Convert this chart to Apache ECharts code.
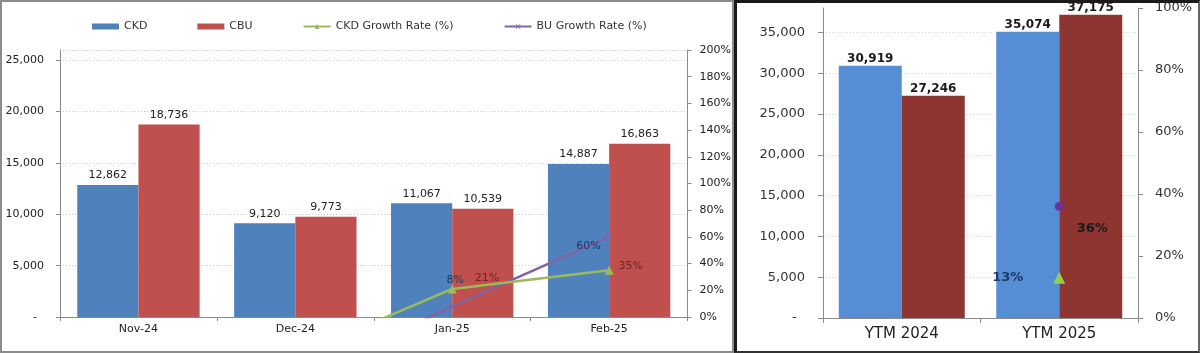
<!DOCTYPE html>
<html>
<head>
<meta charset="utf-8">
<title>CKD / CBU</title>
<script src="https://cdn.jsdelivr.net/npm/echarts@6/dist/echarts.min.js"></script>
<style>
    body { margin: 0; background: #fff; }
    .chart { position: absolute; top: 0; height: 353px; }
    .frame { position: absolute; top: 0; height: 353px; box-sizing: border-box; pointer-events: none; }
</style>
</head>
<body>
<div id="monthly" class="chart" style="left:0;width:734px"></div>
<div id="ytm" class="chart" style="left:734px;width:466px"></div>
<div class="frame" style="left:0;width:734px;border:2px solid #8c8c8c"></div>
<div class="frame" style="left:734px;width:466px;border:3px solid #1a1a1a;border-right:2px solid #666;border-bottom:2px solid #333"></div>

<script>
    // data
    var months = ['Nov-24', 'Dec-24', 'Jan-25', 'Feb-25'];
    var ckdUnits = [12862, 9120, 11067, 14887];
    var cbuUnits = [18736, 9773, 10539, 16863];
    var ckdGrowth = [null, -29, 21, 35];
    var cbuGrowth = [null, -48, 8, 60];

    var ytmCats = ['YTM 2024', 'YTM 2025'];
    var ytmCkd = [30919, 35074];
    var ytmCbu = [27246, 37175];
    var ytmCkdGrowth = [null, 13];
    var ytmCbuGrowth = [null, 36];

    var FONT = 'DejaVu Sans';
    var AXIS = '#8a8a8a';
    var xPath = 'path://M0,1 L1,0 L5,4 L9,0 L10,1 L6,5 L10,9 L9,10 L5,6 L1,10 L0,9 L4,5Z';

    function num(v) {
        if (v === 0) return '-  ';
        return v.toLocaleString('en-US');
    }

    // label placement for the line points (left chart)
    var ckdLabel = [null, null,
        {position: 'right', offset: [13, -11]},
        {position: 'right', offset: [0, -4]}];
    var cbuLabel = [null, null,
        {position: 'top', offset: [3, -12]},
        {position: 'left', offset: [0, 9]}];

    function withLabels(values, labels) {
        return values.map(function (v, i) {
            return labels[i] ? {value: v, label: labels[i]} : {value: v, label: {show: false}};
        });
    }

    //月度图
    var chart1 = echarts.init(document.getElementById('monthly'));
    chart1.setOption({
        animation: false,
        textStyle: {fontFamily: FONT},
        legend: {
            top: 16, left: 87,
            itemGap: 50, itemWidth: 27, itemHeight: 6,
            textStyle: {fontFamily: FONT, fontSize: 11, color: '#333'},
            data: [
                {name: 'CKD', icon: 'rect'},
                {name: 'CBU', icon: 'rect'},
                'CKD Growth Rate (%)',
                'BU Growth Rate (%)'
            ]
        },
        grid: {left: 60, top: 50, width: 630, height: 267},
        xAxis: {
            type: 'category',
            data: months,
            axisLine: {lineStyle: {color: AXIS}},
            axisTick: {show: true, length: 4, lineStyle: {color: AXIS}},
            axisLabel: {fontSize: 11, color: '#222', margin: 7}
        },
        yAxis: [
            {
                type: 'value', min: 0, max: 26000, interval: 5000,
                axisLine: {show: true, lineStyle: {color: AXIS}},
                axisTick: {show: true, length: 4, lineStyle: {color: AXIS}},
                axisLabel: {fontSize: 11, color: '#222', margin: 16, showMaxLabel: false, formatter: num},
                splitLine: {lineStyle: {color: '#c8c8c8', type: [1, 2]}}
            },
            {
                type: 'value', min: 0, max: 200, interval: 20,
                axisLine: {show: true, lineStyle: {color: AXIS}},
                axisTick: {show: true, length: 4, lineStyle: {color: AXIS}},
                axisLabel: {fontSize: 11, color: '#222', margin: 12, formatter: '{value}%'},
                splitLine: {show: false}
            }
        ],
        series: [
            {
                name: 'CKD', type: 'bar', data: ckdUnits,
                barGap: '0%', barCategoryGap: '22%',
                itemStyle: {color: '#4f81bd'},
                label: {show: true, position: 'top', distance: 4, fontSize: 11, color: '#222',
                    formatter: function (p) { return num(p.value); }}
            },
            {
                name: 'CBU', type: 'bar', data: cbuUnits,
                itemStyle: {color: '#c0504d'},
                label: {show: true, position: 'top', distance: 4, fontSize: 11, color: '#222',
                    formatter: function (p) { return num(p.value); }}
            },
            {
                name: 'CKD Growth Rate (%)', type: 'line', yAxisIndex: 1,
                data: withLabels(ckdGrowth, ckdLabel),
                symbol: 'triangle', symbolSize: 9,
                lineStyle: {color: '#9bbb59', width: 2.5},
                itemStyle: {color: '#9bbb59'},
                label: {show: true, fontSize: 11, color: '#6e2424', formatter: '{c}%'},
                z: 5
            },
            {
                name: 'BU Growth Rate (%)', type: 'line', yAxisIndex: 1,
                data: withLabels(cbuGrowth, cbuLabel),
                symbol: xPath, symbolSize: 7,
                lineStyle: {color: '#8064a2', width: 2.5},
                itemStyle: {color: '#8064a2'},
                label: {show: true, fontSize: 11, color: '#1f3864', formatter: '{c}%'},
                z: 4
            }
        ]
    });

    //累计图
    var chart2 = echarts.init(document.getElementById('ytm'));
    chart2.setOption({
        animation: false,
        textStyle: {fontFamily: FONT},
        grid: {left: 89, top: 8, width: 315, height: 310},
        xAxis: {
            type: 'category',
            data: ytmCats,
            axisLine: {lineStyle: {color: AXIS}},
            axisTick: {show: true, length: 5, lineStyle: {color: AXIS}},
            axisLabel: {fontSize: 15, color: '#222', margin: 9}
        },
        yAxis: [
            {
                type: 'value', min: 0, max: 38000, interval: 5000,
                axisLine: {show: true, lineStyle: {color: AXIS}},
                axisTick: {show: true, length: 5, lineStyle: {color: AXIS}},
                axisLabel: {fontSize: 13, color: '#333', margin: 18, showMaxLabel: false, formatter: num},
                splitLine: {showMaxLine: false, lineStyle: {color: '#d0d0d0', type: [1, 2]}}
            },
            {
                type: 'value', min: 0, max: 100, interval: 20,
                axisLine: {show: true, lineStyle: {color: AXIS}},
                axisTick: {show: true, length: 5, lineStyle: {color: AXIS}},
                axisLabel: {fontSize: 13, color: '#333', margin: 17, formatter: '{value}%'},
                splitLine: {show: false}
            }
        ],
        series: [
            {
                name: 'CKD', type: 'bar', data: ytmCkd,
                barGap: '0%', barCategoryGap: '20%',
                itemStyle: {color: '#558ed5'},
                label: {show: true, position: 'top', distance: 1, fontSize: 12, fontWeight: 'bold', color: '#1a1a1a',
                    formatter: function (p) { return num(p.value); }}
            },
            {
                name: 'CBU', type: 'bar', data: ytmCbu,
                itemStyle: {color: '#8e3532'},
                label: {show: true, position: 'top', distance: 1, fontSize: 12, fontWeight: 'bold', color: '#1a1a1a',
                    formatter: function (p) { return num(p.value); }}
            },
            {
                name: 'CKD Growth Rate (%)', type: 'line', yAxisIndex: 1,
                data: ytmCkdGrowth,
                symbol: 'triangle', symbolSize: 12,
                itemStyle: {color: '#92d050'},
                label: {show: true, position: 'left', distance: 30, fontSize: 13, fontWeight: 'bold',
                    color: '#1f3864', formatter: '{c}%'},
                z: 5
            },
            {
                name: 'BU Growth Rate (%)', type: 'line', yAxisIndex: 1,
                data: ytmCbuGrowth,
                symbol: 'circle', symbolSize: 9,
                itemStyle: {color: '#7030a0'},
                label: {show: true, position: 'right', offset: [8, 22], fontSize: 13, fontWeight: 'bold',
                    color: '#1a1a1a', formatter: '{c}%'},
                z: 5
            }
        ]
    });

    window.onresize = function () {
        chart1.resize();
        chart2.resize();
    };
</script>
</body>
</html>
